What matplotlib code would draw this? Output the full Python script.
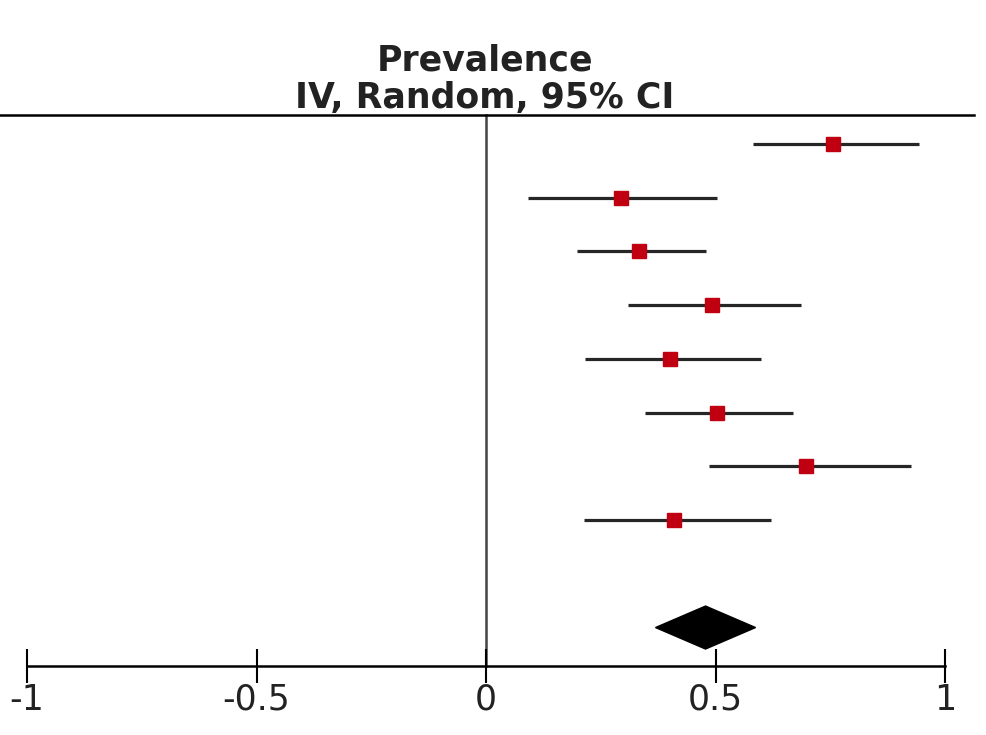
import matplotlib.pyplot as plt
from matplotlib.patches import Polygon

# study estimates (prevalence) and 95% CI
est = [0.755, 0.293, 0.332, 0.493, 0.400, 0.504, 0.697, 0.410]
lo = [0.581, 0.092, 0.197, 0.310, 0.216, 0.347, 0.485, 0.214]
hi = [0.943, 0.502, 0.478, 0.686, 0.598, 0.668, 0.926, 0.620]

# pooled estimate (diamond)
pooled = 0.478
pooled_lo = 0.369
pooled_hi = 0.587

xticks = [-1, -0.5, 0, 0.5, 1]
xticklabels = ['-1', '-0.5', '0', '0.5', '1']

fig = plt.figure(figsize=(9.86, 7.35), dpi=100)
fig.set_facecolor('white')
ax = fig.add_axes([0, 0, 1, 1])

rows = list(range(len(est)))
pooled_row = len(est) + 1
axis_row = 9.72
top_row = -0.54

ax.set_xlim(-1.059, 1.089)
ax.set_ylim(11.0, -2.68)

for r, e, l, h in zip(rows, est, lo, hi):
    ax.plot([l, h], [r, r], color='#262626', lw=2.3, solid_capstyle='butt', zorder=2)
    ax.plot(e, r, 's', color='#c00010', markersize=10, zorder=3)

d = 0.4
ax.add_patch(Polygon([[pooled_lo, pooled_row], [pooled, pooled_row - d],
                      [pooled_hi, pooled_row], [pooled, pooled_row + d]],
                     closed=True, color='black', zorder=3))

# line of no effect and header rule
ax.plot([0, 0], [top_row, axis_row], color='#444444', lw=1.8, zorder=1)
ax.plot([-1.059, 1.063], [top_row, top_row], color='black', lw=1.8)

# x axis
for s in ['top', 'left', 'right']:
    ax.spines[s].set_visible(False)
ax.spines['bottom'].set_position(('data', axis_row))
ax.spines['bottom'].set_bounds(-1, 1)
ax.spines['bottom'].set_linewidth(1.8)
ax.set_xticks(xticks)
ax.set_xticklabels(xticklabels, fontsize=25, color='#222222')
ax.tick_params(axis='x', direction='inout', length=24, width=1.5, pad=0)
ax.set_yticks([])

fig.text(0.492, 0.918, 'Prevalence', ha='center', va='center', fontsize=25,
         fontweight='bold', color='#222222')
fig.text(0.492, 0.866, 'IV, Random, 95% CI', ha='center', va='center', fontsize=25,
         fontweight='bold', color='#222222')

plt.savefig('out.png', dpi=100)
